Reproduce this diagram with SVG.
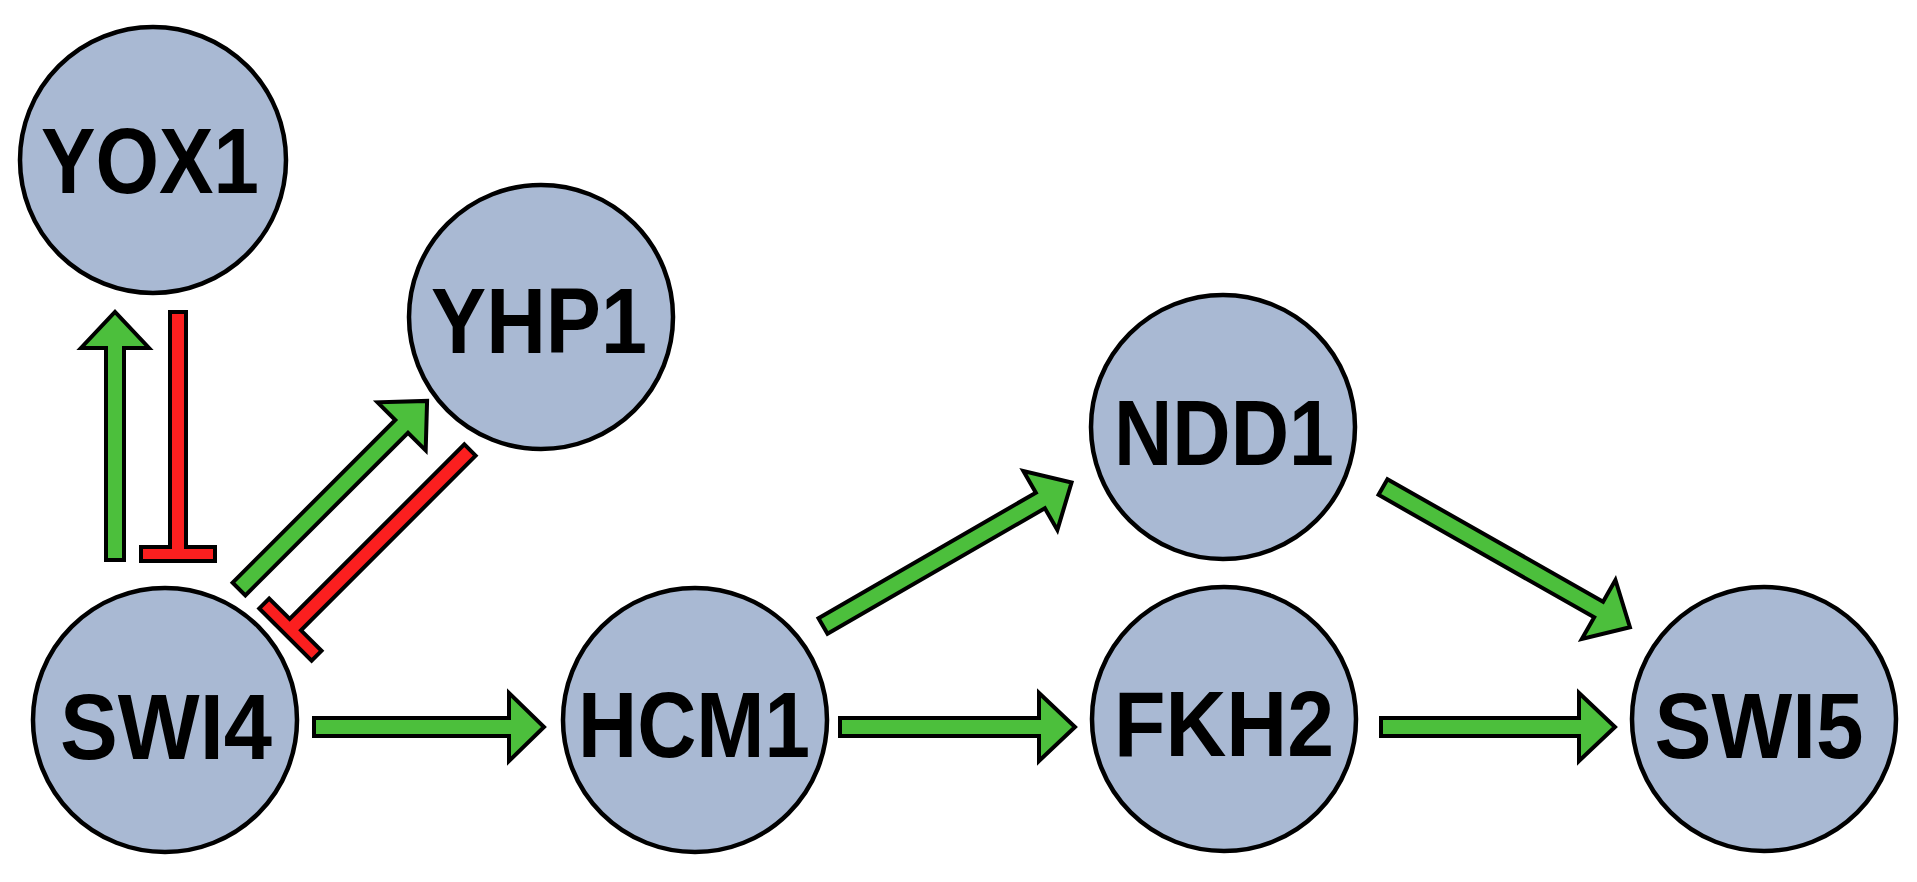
<svg xmlns="http://www.w3.org/2000/svg" width="1917" height="882" viewBox="0 0 1917 882">
<style>
.node{fill:#a9b9d3;stroke:#000;stroke-width:4.5}
.lbl{font-family:"Liberation Sans",Arial,sans-serif;font-weight:bold;font-size:92px;fill:#000;text-anchor:middle}
.act{fill:#4cbf3c;stroke:#000;stroke-width:4;stroke-linejoin:miter}
.inh{fill:#fb1f1f;stroke:#000;stroke-width:4;stroke-linejoin:miter}
</style>
<rect width="1917" height="882" fill="#fff"/>
<g id="connectors">
<g transform="translate(115,560) rotate(-90)"><polygon class="act" points="0,-9 212,-9 212,-34 248,0 212,34 212,9 0,9"/></g>
<g transform="translate(178,312) rotate(90)"><polygon class="inh" points="0,-8 235,-8 235,-37 249,-37 249,37 235,37 235,8 0,8"/></g>
<g transform="translate(239,589) rotate(-45)"><polygon class="act" points="0,-9 230,-9 230,-34 266,0 230,34 230,9 0,9"/></g>
<g transform="translate(470,450) rotate(135)"><polygon class="inh" points="0,-8 247,-8 247,-37 261,-37 261,37 247,37 247,8 0,8"/></g>
<g transform="translate(314,727)"><polygon class="act" points="0,-9 195,-9 195,-34 230,0 195,34 195,9 0,9"/></g>
<g transform="translate(840,727)"><polygon class="act" points="0,-9 199,-9 199,-34 235,0 199,34 199,9 0,9"/></g>
<g transform="translate(1381,727)"><polygon class="act" points="0,-9 198,-9 198,-34 234,0 198,34 198,9 0,9"/></g>
<g transform="translate(823,626) rotate(-30)"><polygon class="act" points="0,-9 251,-9 251,-34 287,0 251,34 251,9 0,9"/></g>
<g transform="translate(1383,487) rotate(29.6)"><polygon class="act" points="0,-9 248,-9 248,-34 284,0 248,34 248,9 0,9"/></g>
</g>
<g id="YOX1"><circle class="node" cx="153" cy="160" r="133"/><text class="lbl" x="150" y="193" textLength="218" lengthAdjust="spacingAndGlyphs">YOX1</text></g>
<g id="YHP1"><circle class="node" cx="541" cy="317" r="132"/><text class="lbl" x="539" y="353" textLength="216" lengthAdjust="spacingAndGlyphs">YHP1</text></g>
<g id="SWI4"><circle class="node" cx="165" cy="720" r="132"/><text class="lbl" x="166" y="759" textLength="212" lengthAdjust="spacingAndGlyphs">SWI4</text></g>
<g id="HCM1"><circle class="node" cx="695" cy="720" r="132"/><text class="lbl" x="694" y="757" textLength="232" lengthAdjust="spacingAndGlyphs">HCM1</text></g>
<g id="NDD1"><circle class="node" cx="1223" cy="427" r="132"/><text class="lbl" x="1224" y="465" textLength="220" lengthAdjust="spacingAndGlyphs">NDD1</text></g>
<g id="FKH2"><circle class="node" cx="1224" cy="719" r="132"/><text class="lbl" x="1224" y="756" textLength="220" lengthAdjust="spacingAndGlyphs">FKH2</text></g>
<g id="SWI5"><circle class="node" cx="1764" cy="719" r="132"/><text class="lbl" x="1759" y="758" textLength="209" lengthAdjust="spacingAndGlyphs">SWI5</text></g>
</svg>
